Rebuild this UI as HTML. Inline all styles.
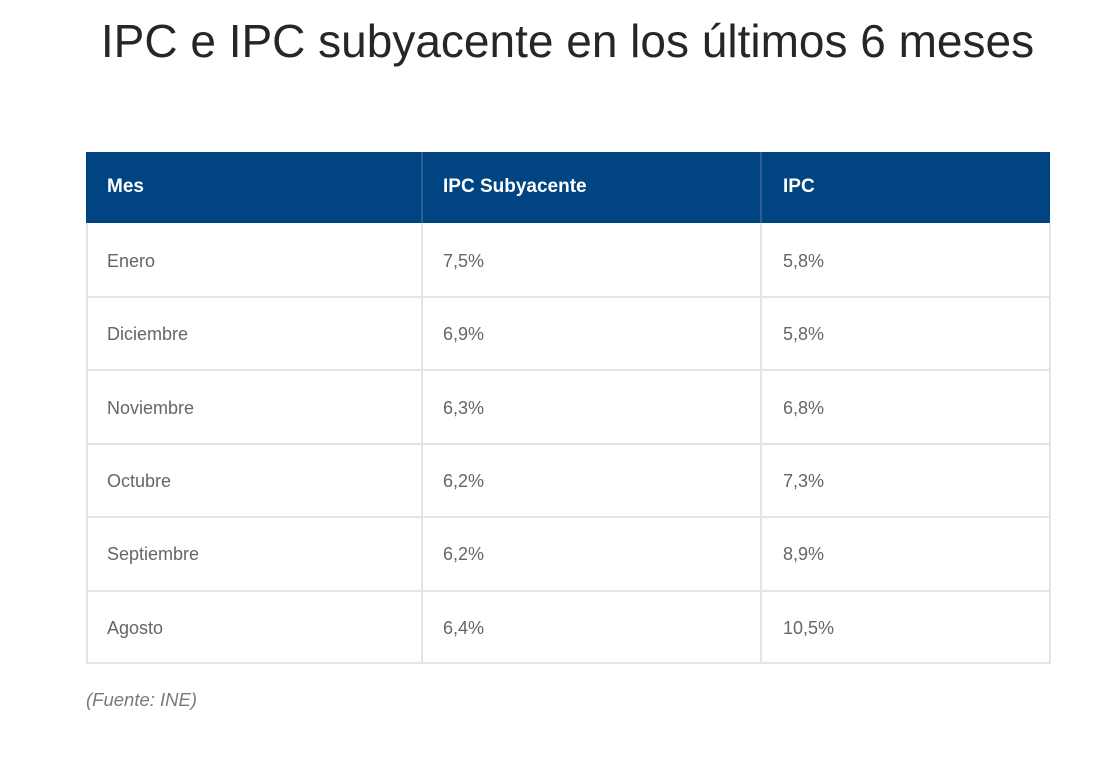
<!DOCTYPE html>
<html>
<head>
<meta charset="utf-8">
<style>
  html, body { margin:0; padding:0; }
  body { width:1100px; height:757px; background:#fff; position:relative; overflow:hidden;
         font-family:"Liberation Sans", Arial, sans-serif; }
  .title { position:absolute; left:0; width:1135px; top:18px; text-align:center;
           font-size:46px; line-height:46px; color:#262626; white-space:nowrap; }
  .hdr { position:absolute; left:86px; top:152px; width:964px; height:71px; background:#004481; }
  .vsep { position:absolute; width:2px; background:#e4e4e4; }
  .hsep { position:absolute; left:86px; width:964px; height:2px; background:#e4e4e4; }
  .hv { position:absolute; top:152px; height:71px; width:2px; background:#2f5f95; }
  .ht { position:absolute; color:#fff; font-weight:bold; font-size:19px; line-height:20px; top:177px; }
  .bt { position:absolute; color:#666; font-size:18px; line-height:20px; }
  .foot { position:absolute; left:86px; top:689px; font-style:italic; font-size:18.5px; color:#7a7a7a; line-height:22px; }
</style>
</head>
<body>
<div class="title">IPC e IPC subyacente en los últimos 6 meses</div>

<div class="hdr"></div>
<div class="hv" style="left:421px"></div>
<div class="hv" style="left:760px"></div>

<div class="ht" style="left:107px">Mes</div>
<div class="ht" style="left:443px">IPC Subyacente</div>
<div class="ht" style="left:783px">IPC</div>

<!-- borders -->
<div class="vsep" style="left:86px; top:223px; height:441px;"></div>
<div class="vsep" style="left:421px; top:223px; height:441px;"></div>
<div class="vsep" style="left:760px; top:223px; height:441px;"></div>
<div class="vsep" style="left:1049px; top:223px; height:441px;"></div>
<div class="hsep" style="top:296px"></div>
<div class="hsep" style="top:369px"></div>
<div class="hsep" style="top:443px"></div>
<div class="hsep" style="top:516px"></div>
<div class="hsep" style="top:590px"></div>
<div class="hsep" style="top:662px"></div>

<!-- rows -->
<div class="bt" style="left:107px; top:251px">Enero</div>
<div class="bt" style="left:443px; top:251px">7,5%</div>
<div class="bt" style="left:783px; top:251px">5,8%</div>

<div class="bt" style="left:107px; top:324px">Diciembre</div>
<div class="bt" style="left:443px; top:324px">6,9%</div>
<div class="bt" style="left:783px; top:324px">5,8%</div>

<div class="bt" style="left:107px; top:398px">Noviembre</div>
<div class="bt" style="left:443px; top:398px">6,3%</div>
<div class="bt" style="left:783px; top:398px">6,8%</div>

<div class="bt" style="left:107px; top:471px">Octubre</div>
<div class="bt" style="left:443px; top:471px">6,2%</div>
<div class="bt" style="left:783px; top:471px">7,3%</div>

<div class="bt" style="left:107px; top:544px">Septiembre</div>
<div class="bt" style="left:443px; top:544px">6,2%</div>
<div class="bt" style="left:783px; top:544px">8,9%</div>

<div class="bt" style="left:107px; top:618px">Agosto</div>
<div class="bt" style="left:443px; top:618px">6,4%</div>
<div class="bt" style="left:783px; top:618px">10,5%</div>

<div class="foot">(Fuente: INE)</div>
</body>
</html>
